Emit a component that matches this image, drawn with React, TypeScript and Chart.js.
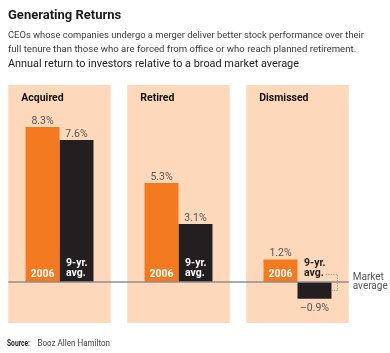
import React, { useEffect, useRef } from "react";
import { Chart, registerables } from "chart.js";

Chart.register(...registerables);

const categories = ["Acquired", "Retired", "Dismissed"];
const returns2006 = [8.3, 5.3, 1.2];
const returnsNineYear = [7.6, 3.1, -0.9];
const seriesNames = ["2006", "9-yr. avg."];

const TITLE = "Generating Returns";
const SUBTITLE_LINES = [
  "CEOs whose companies undergo a merger deliver better stock performance over their",
  "full tenure than those who are forced from office or who reach planned retirement.",
];
const CHART_HEADING = "Annual return to investors relative to a broad market average";
const SOURCE_LABEL = "Source:";
const SOURCE_TEXT = "Booz Allen Hamilton";
const MARKET_LABEL = ["Market", "average"];

const Y_MIN = -2.2;
const Y_MAX = 10.55;

const ORANGE = "#F37A21";
const BLACK = "#231F20";
const PEACH = "#FDD8BA";
const GRAY_TEXT = "#555555";
const FONT = "Roboto, 'DejaVu Sans', sans-serif";

const fmt = (v: number) => (v < 0 ? "\u2013" : "") + Math.abs(v).toFixed(1) + "%";

const textPlugin = {
  id: "annotations",
  afterDatasetsDraw(chart: any) {
    const { ctx } = chart;
    const y = chart.scales.y;
    const y0 = y.getPixelForValue(0);
    const panels = chart.getDatasetMeta(2).data;
    const bars0 = chart.getDatasetMeta(0).data;
    const bars1 = chart.getDatasetMeta(1).data;
    ctx.save();

    // baseline (market average)
    const left = panels[0].x - panels[0].width / 2;
    const right = panels[panels.length - 1].x + panels[panels.length - 1].width / 2;
    ctx.strokeStyle = "#8f8f8f";
    ctx.lineWidth = 1.5;
    ctx.beginPath();
    ctx.moveTo(left, y0);
    ctx.lineTo(right, y0);
    ctx.stroke();

    // category names
    ctx.fillStyle = "#111";
    ctx.font = `bold 10.5px ${FONT}`;
    ctx.textAlign = "left";
    ctx.textBaseline = "alphabetic";
    panels.forEach((p: any, i: number) => {
      const pl = p.x - p.width / 2;
      ctx.fillText(categories[i], pl + 13, chart.chartArea.top + 15.5);
    });

    // value labels
    ctx.font = `10.5px ${FONT}`;
    ctx.fillStyle = GRAY_TEXT;
    ctx.textAlign = "center";
    const valueLabel = (bar: any, v: number) => {
      if (v >= 0) ctx.fillText(fmt(v), bar.x, bar.y - 3.5);
      else ctx.fillText(fmt(v), bar.x, bar.y + 12.5);
    };
    bars0.forEach((b: any, i: number) => valueLabel(b, returns2006[i]));
    bars1.forEach((b: any, i: number) => valueLabel(b, returnsNineYear[i]));

    // series labels inside bars
    ctx.font = `bold 10.5px ${FONT}`;
    bars0.forEach((b: any, i: number) => {
      ctx.fillStyle = returns2006[i] >= 0 ? "#fff" : BLACK;
      ctx.textAlign = "center";
      ctx.fillText(seriesNames[0], b.x, y0 - 5);
    });
    const [l1, l2] = ["9-yr.", "avg."];
    bars1.forEach((b: any, i: number) => {
      const v = returnsNineYear[i];
      const bl = b.x - b.width / 2;
      ctx.fillStyle = v >= 0 ? "#fff" : BLACK;
      ctx.textAlign = "left";
      ctx.fillText(l1, bl + 6.5, y0 - 15.5);
      ctx.fillText(l2, bl + 6.5, y0 - 5.5);
      if (v < 0) {
        const tx = bl + 6.5 + ctx.measureText(l2).width + 2;
        const br = b.x + b.width / 2;
        const midY = (b.y + b.base) / 2;
        ctx.strokeStyle = "#8a8a8a";
        ctx.lineWidth = 1;
        ctx.setLineDash([1, 1.5]);
        ctx.beginPath();
        ctx.moveTo(tx, y0 - 7.5);
        ctx.lineTo(br + 6, y0 - 7.5);
        ctx.lineTo(br + 6, midY);
        ctx.lineTo(br, midY);
        ctx.stroke();
        ctx.setLineDash([]);
      }
    });

    // market average label
    ctx.fillStyle = GRAY_TEXT;
    ctx.font = `10px ${FONT}`;
    ctx.textAlign = "left";
    ctx.fillText(MARKET_LABEL[0], right + 4, y0 - 2);
    ctx.fillText(MARKET_LABEL[1], right + 4, y0 + 7);

    // header texts
    ctx.fillStyle = "#1a1a1a";
    ctx.font = `bold 13px ${FONT}`;
    ctx.fillText(TITLE, 8, 18.5, 120);
    ctx.fillStyle = "#3a3a3a";
    ctx.font = `9.6px ${FONT}`;
    ctx.fillText(SUBTITLE_LINES[0], 8, 37.5, 356);
    ctx.fillText(SUBTITLE_LINES[1], 8, 52, 354);
    ctx.fillStyle = "#222";
    ctx.font = `11.5px ${FONT}`;
    ctx.fillText(CHART_HEADING, 8, 67, 291);

    // source
    ctx.font = `bold 8.5px ${FONT}`;
    ctx.fillStyle = "#222";
    ctx.fillText(SOURCE_LABEL, 7, 346, 23);
    ctx.font = `8.5px ${FONT}`;
    ctx.fillStyle = "#444";
    ctx.fillText(SOURCE_TEXT, 37.5, 346, 72.5);

    ctx.restore();
  },
};

export default function App() {
  const ref = useRef<HTMLCanvasElement>(null);
  useEffect(() => {
    if (!ref.current) return;
    const chart = new Chart(ref.current, {
      type: "bar",
      data: {
        labels: categories,
        datasets: [
          {
            label: seriesNames[0],
            data: returns2006,
            backgroundColor: ORANGE,
            categoryPercentage: 0.571,
            barPercentage: 1,
            order: 1,
          },
          {
            label: seriesNames[1],
            data: returnsNineYear,
            backgroundColor: BLACK,
            categoryPercentage: 0.571,
            barPercentage: 1,
            order: 1,
          },
          {
            label: "panel",
            data: categories.map(() => [Y_MIN, Y_MAX]) as any,
            backgroundColor: PEACH,
            grouped: false,
            categoryPercentage: 0.861,
            barPercentage: 1,
            order: 10,
          } as any,
        ],
      },
      options: {
        animation: false,
        responsive: false,
        layout: { padding: { top: 85, bottom: 30, left: 0, right: 33 } },
        plugins: { legend: { display: false }, tooltip: { enabled: false }, title: { display: false } },
        scales: {
          x: { display: false, grid: { display: false } },
          y: { display: false, min: Y_MIN, max: Y_MAX, grid: { display: false } },
        },
      },
      plugins: [textPlugin],
    });
    return () => chart.destroy();
  }, []);
  return (
    <div style={{ position: "absolute", left: 0, top: 0, width: 390, height: 353, background: "#fff" }}>
      <canvas ref={ref} width={390} height={353} style={{ display: "block" }} />
    </div>
  );
}
